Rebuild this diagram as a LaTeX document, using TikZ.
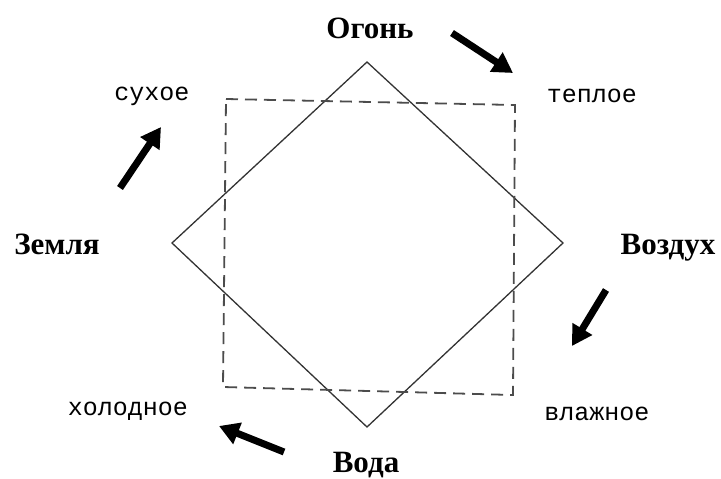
\documentclass[tikz,border=0pt]{standalone}
\usepackage{fontspec}
\setmainfont{Liberation Serif}
\newfontfamily\monofont{Liberation Mono}
\usetikzlibrary{arrows.meta}
\begin{document}
\begin{tikzpicture}[x=1pt,y=-1pt,
  rhombline/.style={draw=black!80,line width=1.3pt,line join=miter},
  dashline/.style={draw=black!70,line width=1.8pt,dash pattern=on 12pt off 7pt},
  bigarrow/.style={line width=7pt,-{Triangle[length=20pt,width=22pt]}},
  element/.style={font=\fontsize{31}{33}\selectfont\bfseries,inner sep=0pt},
  quality/.style={font=\monofont\fontsize{25}{27}\selectfont,inner sep=0pt}]
\useasboundingbox (0,0) rectangle (721,479);
% rhombus
\coordinate (dT) at (367,62);
\coordinate (dR) at (563,243);
\coordinate (dB) at (367,427);
\coordinate (dL) at (172,243);
\draw[rhombline] (dT) -- (dR) -- (dB) -- (dL) -- cycle;
% dashed quadrilateral
\coordinate (qTL) at (226,99);
\coordinate (qTR) at (515,105);
\coordinate (qBR) at (513,395);
\coordinate (qBL) at (223,387);
\draw[dashline] (qTL) -- (qTR) -- (qBR) -- (qBL) -- cycle;
% element labels
\node[element] (fire) at (370,28) {Огонь};
\node[element] (earth) at (57,244) {Земля};
\node[element] (air) at (668,248) {Воздух};
\node[element] (water) at (366,465) {Вода};
% quality labels
\node[quality] (dry) at (152,96) {сухое};
\node[quality] (warm) at (592,96) {теплое};
\node[quality] (cold) at (128,411) {холодное};
\node[quality] (wet) at (597,414) {влажное};
% arrows
\coordinate (a1s) at (452,33);  \coordinate (a1e) at (513,73);
\coordinate (a2s) at (120,188); \coordinate (a2e) at (161,127);
\coordinate (a3s) at (606,290); \coordinate (a3e) at (572,346);
\coordinate (a4s) at (284,452); \coordinate (a4e) at (219,426);
\draw[bigarrow] (a1s) -- (a1e);
\draw[bigarrow] (a2s) -- (a2e);
\draw[bigarrow] (a3s) -- (a3e);
\draw[bigarrow] (a4s) -- (a4e);
\end{tikzpicture}
\end{document}
